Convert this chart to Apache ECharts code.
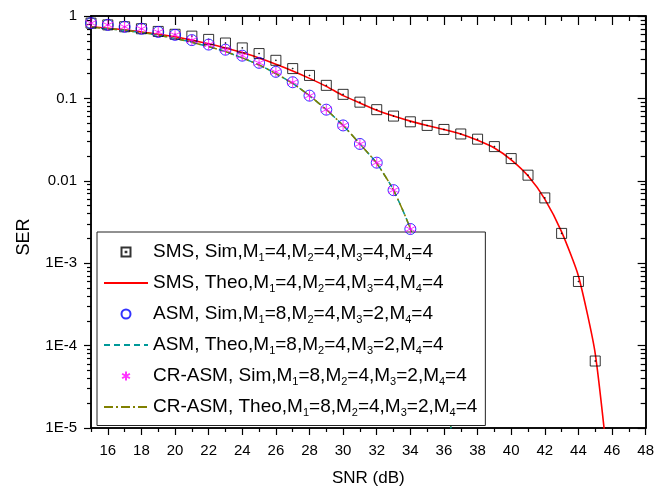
<!DOCTYPE html>
<html><head><meta charset="utf-8">
<script src="https://cdn.jsdelivr.net/npm/echarts@6/dist/echarts.min.js"></script>
<style>html,body{margin:0;padding:0;background:#fff}#c{width:657px;height:492px}</style>
</head><body><div id="c"></div>
<script>
// ---- data ----
const smsSimSnr = [15,16,17,18,19,20,21,22,23,24,25,26,27,28,29,30,31,32,33,34,35,36,37,38,39,40,41,42,43,44,45];
const smsSim = [0.82,0.78,0.74,0.70,0.65,0.60,0.57,0.52,0.47,0.41,0.35,0.29,0.23,0.19,0.144,0.112,0.090,0.073,0.061,0.052,0.047,0.042,0.037,0.032,0.026,0.0186,0.0117,0.0062,0.0023,6.0e-4,6.5e-5];
const smsTheoSnr = [15,16,17,18,19,20,21,22,23,24,25,26,27,28,29,30,31,32,33,34,35,36,37,38,39,40,41,42,43,44,45,46];
const smsTheo = [0.74,0.71,0.68,0.64,0.60,0.56,0.51,0.46,0.41,0.36,0.31,0.26,0.215,0.175,0.14,0.108,0.088,0.072,0.061,0.053,0.047,0.042,0.037,0.031,0.025,0.018,0.0115,0.006,0.0024,7e-4,8e-5,1.2e-6];
const asmSimSnr = [15,16,17,18,19,20,21,22,23,24,25,26,27,28,29,30,31,32,33,34];
const asmSim = [0.82,0.78,0.74,0.70,0.64,0.59,0.51,0.45,0.39,0.33,0.27,0.21,0.157,0.108,0.073,0.047,0.028,0.0166,0.0077,0.0026];
const crSim = [0.82,0.78,0.74,0.70,0.64,0.59,0.51,0.45,0.39,0.33,0.27,0.21,0.157,0.108,0.073,0.047,0.028,0.0166,0.0077,0.0026];
const asmTheoSnr = [15,16,17,18,19,20,21,22,23,24,25,26,27,28,29,30,31,32,33,34,35,36,37];
const asmTheo = [0.73,0.70,0.67,0.63,0.585,0.535,0.48,0.425,0.37,0.31,0.255,0.2,0.152,0.108,0.073,0.047,0.028,0.0163,0.0077,0.0026,4.5e-4,4.5e-5,1e-6];
const crTheo = [0.73,0.70,0.67,0.63,0.585,0.535,0.48,0.425,0.37,0.31,0.255,0.2,0.152,0.108,0.073,0.047,0.028,0.0163,0.0077,0.0026,4.5e-4,4.5e-5,1e-6];
const seriesNames = [
  'SMS, Sim,M1=4,M2=4,M3=4,M4=4',
  'SMS, Theo,M1=4,M2=4,M3=4,M4=4',
  'ASM, Sim,M1=8,M2=4,M3=2,M4=4',
  'ASM, Theo,M1=8,M2=4,M3=2,M4=4',
  'CR-ASM, Sim,M1=8,M2=4,M3=2,M4=4',
  'CR-ASM, Theo,M1=8,M2=4,M3=2,M4=4'
];
const xMajorTicks = [16,18,20,22,24,26,28,30,32,34,36,38,40,42,44,46,48];
const xMinorTicks = [15,17,19,21,23,25,27,29,31,33,35,37,39,41,43,45,47];
const yMajorTicks = [1e-5,1e-4,1e-3,1e-2,1e-1,1];
const yTickLabels = {'-5':'1E-5','-4':'1E-4','-3':'1E-3','-2':'0.01','-1':'0.1','0':'1'};
const xTitle = 'SNR (dB)';
const yTitle = 'SER';

// ---- build ----
const yMinorTicks = [];
for (let d = -5; d <= -1; d++) for (let k = 2; k <= 9; k++) yMinorTicks.push(k * Math.pow(10, d));
const pairs = (xs, ys) => xs.map((x, i) => [x, ys[i]]);
const FONT = 'Arial, "Liberation Sans", sans-serif';
const X0 = 15, X1 = 48, Y0 = 1e-5, Y1 = 1;

function xAx(pos, vals, len, inside, labels) {
  return {type:'value', position:pos, min:X0, max:X1, splitLine:{show:false},
    axisLine:{show:true, onZero:false, lineStyle:{color:'#000', width:1.5}},
    axisTick:{show:true, inside:inside, length:len, customValues:vals, lineStyle:{color:'#000', width:1.2}},
    axisLabel:labels ? {show:true, customValues:vals, fontSize:15, fontFamily:FONT, color:'#000', margin:15} : {show:false},
    name: labels ? xTitle : '', nameLocation:'middle', nameGap:42,
    nameTextStyle:{fontSize:17, fontFamily:FONT, color:'#000'}};
}
function yAx(pos, vals, len, inside, labels) {
  return {type:'log', logBase:10, position:pos, min:Y0, max:Y1, splitLine:{show:false},
    axisLine:{show:true, onZero:false, lineStyle:{color:'#000', width:1.5}},
    axisTick:{show:true, inside:inside, length:len, customValues:vals, lineStyle:{color:'#000', width:1.2}},
    axisLabel:labels ? {show:true, customValues:vals, fontSize:15, fontFamily:FONT, color:'#000', margin:14,
      formatter:v => yTickLabels[String(Math.round(Math.log10(v)))]} : {show:false},
    minorTick:{show:false},
    name: labels ? yTitle : '', nameLocation:'middle', nameGap:58,
    nameTextStyle:{fontSize:18, fontFamily:FONT, color:'#000', padding:[0,30,0,0]}};
}

const sqPath = 'path://M0,0L10,0L10,10L0,10Z M4.6,4.6L5.4,4.6L5.4,5.4L4.6,5.4Z';
const starPath = 'path://M0,-5L0,5M-4.33,-2.5L4.33,2.5M-4.33,2.5L4.33,-2.5';
const hiddenDot = {color:'rgba(0,0,0,0)', borderColor:'rgba(0,0,0,0)', borderWidth:0};

const option = {
  animation:false,
  backgroundColor:'#fff',
  grid:{left:91, right:9, top:16, bottom:62, containLabel:false},
  xAxis:[xAx('bottom', xMajorTicks, 7, false, true), xAx('bottom', xMinorTicks, 4, false, false),
         xAx('top', xMajorTicks, 9, true, false), xAx('top', xMinorTicks, 5, true, false)],
  yAxis:[yAx('left', yMajorTicks, 7, false, true), yAx('left', yMinorTicks, 4, false, false),
         yAx('right', yMajorTicks, 8, true, false), yAx('right', yMinorTicks, 5, true, false)],
  legend:{
    orient:'vertical', left:97, top:232, itemWidth:44, itemHeight:9, itemGap:8.5,
    padding:[9,8,7,6], borderColor:'#222', borderWidth:1, backgroundColor:'#fff',
    textStyle:{fontSize:19, fontFamily:FONT, color:'#000', lineHeight:22,
      rich:{sub:{fontSize:11, fontFamily:FONT, color:'#000', padding:[12,0,0,0]}}},
    formatter: n => n.replace(/M(\d)/g, 'M{sub|$1}'),
    data: [
      {name:seriesNames[0]},
      {name:seriesNames[1], itemStyle:hiddenDot},
      {name:seriesNames[2]},
      {name:seriesNames[3], itemStyle:hiddenDot},
      {name:seriesNames[4]},
      {name:seriesNames[5], itemStyle:hiddenDot}
    ]
  },
  series:[
    {name:seriesNames[0], type:'scatter', xAxisIndex:0, yAxisIndex:0, z:3,
      symbol:sqPath, symbolSize:10, data:pairs(smsSimSnr, smsSim),
      itemStyle:{color:'rgba(0,0,0,0)', borderColor:'#000', borderWidth:1}},
    {name:seriesNames[1], type:'line', xAxisIndex:0, yAxisIndex:0, z:2, showSymbol:false, symbol:'none', smooth:0.2,
      data:pairs(smsTheoSnr, smsTheo), lineStyle:{color:'#ff0000', width:1.6}, itemStyle:{color:'#ff0000'}},
    {name:seriesNames[2], type:'scatter', xAxisIndex:0, yAxisIndex:0, z:4,
      symbol:'circle', symbolSize:11, data:pairs(asmSimSnr, asmSim),
      itemStyle:{color:'rgba(0,0,0,0)', borderColor:'#0000ff', borderWidth:1}},
    {name:seriesNames[3], type:'line', xAxisIndex:0, yAxisIndex:0, z:2, showSymbol:false, symbol:'none', smooth:0.2,
      data:pairs(asmTheoSnr, asmTheo), lineStyle:{color:'#009999', width:1.5, type:[6,4]}, itemStyle:{color:'#009999'}},
    {name:seriesNames[4], type:'scatter', xAxisIndex:0, yAxisIndex:0, z:5,
      symbol:starPath, symbolSize:11, data:pairs(asmSimSnr, crSim),
      itemStyle:{color:'rgba(0,0,0,0)', borderColor:'#ff00ff', borderWidth:1}},
    {name:seriesNames[5], type:'line', xAxisIndex:0, yAxisIndex:0, z:2, showSymbol:false, symbol:'none', smooth:0.2,
      data:pairs(asmTheoSnr, crTheo), lineStyle:{color:'#808000', width:1.5, type:[9,3,2,3]}, itemStyle:{color:'#808000'}}
  ]
};
const chart = echarts.init(document.getElementById('c'), null, {renderer:'canvas'});
chart.setOption(option);
</script>
</body></html>
